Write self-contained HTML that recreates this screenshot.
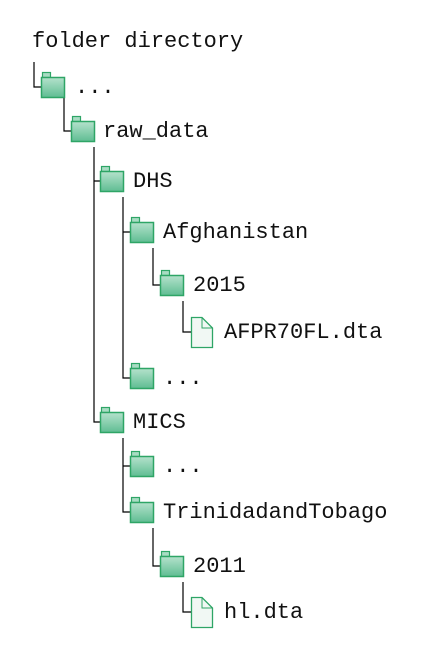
<!DOCTYPE html>
<html><head><meta charset="utf-8"><style>
html,body{margin:0;padding:0;background:#fff;}
svg text{font-family:"Liberation Mono",monospace;font-size:22px;fill:#111;}
</style></head><body>
<svg width="435" height="657" viewBox="0 0 435 657" xmlns="http://www.w3.org/2000/svg">
<defs>
<linearGradient id="g" x1="0" y1="0" x2="0" y2="1">
<stop offset="0" stop-color="#b5e2cc"/><stop offset="1" stop-color="#5fbd92"/>
</linearGradient>
<g id="fold">
<rect x="1.5" y="-14.5" width="8" height="5" fill="#a9dcc3" stroke="#2ea566" stroke-width="1.2"/>
<rect x="0.5" y="-9.5" width="23" height="20" fill="url(#g)" stroke="#2ea566" stroke-width="1.5"/>
</g>
<g id="file">
<path d="M0.5 -14.5 H11 L21.5 -4 V15.5 H0.5 Z" fill="#f1f8f4" stroke="#2ea566" stroke-width="1.3"/>
<path d="M11 -14.5 V-4 H21.5" fill="none" stroke="#2ea566" stroke-width="1"/>
</g>
</defs>
<text x="32" y="47">folder directory</text>
<g stroke="#000" stroke-width="1.2" fill="none">
<path d="M34 62V87H41"/>
<path d="M64 97V131H71"/>
<path d="M94 147V422H100M94 181H100"/>
<path d="M123 197V378H130M123 232H130"/>
<path d="M153 248V285H160"/>
<path d="M183 301V332H191"/>
<path d="M123 438V512H130M123 466H130"/>
<path d="M153 528V566H160"/>
<path d="M183 582V612H191"/>
</g>
<use href="#fold" x="41" y="87"/><text x="75" y="93">...</text>
<use href="#fold" x="71" y="131"/><text x="103" y="137">raw_data</text>
<use href="#fold" x="100" y="181"/><text x="133" y="187">DHS</text>
<use href="#fold" x="130" y="232"/><text x="163" y="238">Afghanistan</text>
<use href="#fold" x="160" y="285"/><text x="193" y="291">2015</text>
<use href="#file" x="191" y="332"/><text x="224" y="338">AFPR70FL.dta</text>
<use href="#fold" x="130" y="378"/><text x="163" y="384">...</text>
<use href="#fold" x="100" y="422"/><text x="133" y="428">MICS</text>
<use href="#fold" x="130" y="466"/><text x="163" y="472">...</text>
<use href="#fold" x="130" y="512"/><text x="163" y="518">TrinidadandTobago</text>
<use href="#fold" x="160" y="566"/><text x="193" y="572">2011</text>
<use href="#file" x="191" y="612"/><text x="224" y="618">hl.dta</text>
</svg>
</body></html>
